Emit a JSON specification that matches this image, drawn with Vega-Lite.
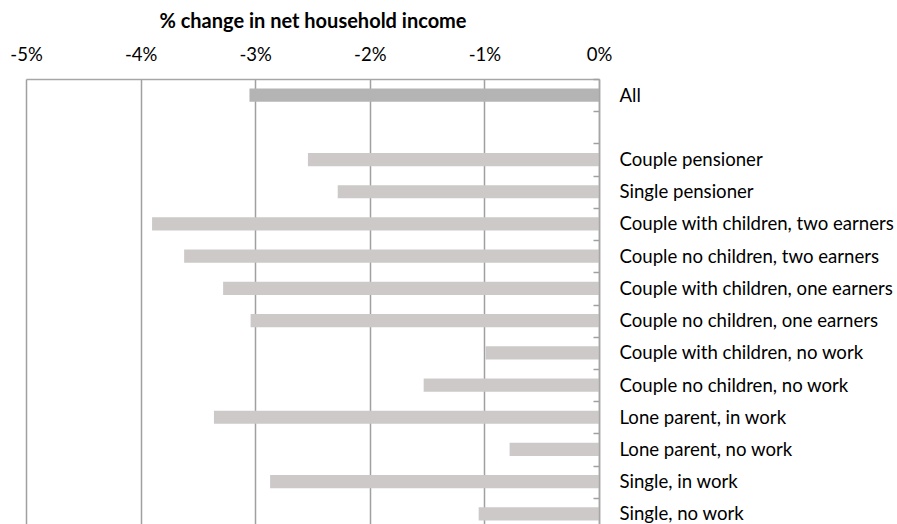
{
  "$schema": "https://vega.github.io/schema/vega-lite/v6.json",
  "autosize": {"type": "none"},
  "width": 573,
  "height": 451,
  "padding": {"left": 26, "top": 79, "right": 298, "bottom": 0},
  "background": "white",
  "config": {"view": {"stroke": null}, "font": "Lato"},
  "data": {
    "values": [
      {"category": "All", "change": -3.05},
      {"category": "Couple pensioner", "change": -2.54},
      {"category": "Single pensioner", "change": -2.28},
      {"category": "Couple with children, two earners", "change": -3.90},
      {"category": "Couple no children, two earners", "change": -3.62},
      {"category": "Couple with children, one earners", "change": -3.28},
      {"category": "Couple no children, one earners", "change": -3.04},
      {"category": "Couple with children, no work", "change": -0.99},
      {"category": "Couple no children, no work", "change": -1.53},
      {"category": "Lone parent, in work", "change": -3.36},
      {"category": "Lone parent, no work", "change": -0.78},
      {"category": "Single, in work", "change": -2.87},
      {"category": "Single, no work", "change": -1.05}
    ]
  },
  "mark": {"type": "bar", "height": {"band": 0.41}},
  "encoding": {
    "y": {
      "field": "category",
      "type": "nominal",
      "scale": {
        "domain": ["All", " ", "Couple pensioner", "Single pensioner", "Couple with children, two earners", "Couple no children, two earners", "Couple with children, one earners", "Couple no children, one earners", "Couple with children, no work", "Couple no children, no work", "Lone parent, in work", "Lone parent, no work", "Single, in work", "Single, no work"],
        "paddingInner": 0,
        "paddingOuter": 0
      },
      "axis": {
        "orient": "right",
        "title": null,
        "zindex": 1,
        "domainColor": "#a6a6a6",
        "domainWidth": 1.5,
        "ticks": true,
        "tickColor": "#a0a0a0",
        "tickSize": -6,
        "tickWidth": 1.5,
        "tickBand": "extent",
        "labelPadding": 26,
        "labelFontSize": 18.6,
        "labelLimit": 400,
        "labelColor": "#000000",
        "labelFont": "Lato",
        "labelAlign": "left"
      }
    },
    "x": {
      "field": "change",
      "type": "quantitative",
      "scale": {"domain": [-5, 0], "nice": false, "zero": true},
      "axis": {
        "orient": "top",
        "values": [-5, -4, -3, -2, -1, 0],
        "labelExpr": "datum.value + '%'",
        "labelFlush": false,
        "title": "% change in net household income",
        "titleFontSize": 20,
        "titleFontWeight": "bold",
        "titleColor": "#000000",
        "titlePadding": 14,
        "labelFontSize": 18.5,
        "labelColor": "#000000",
        "labelPadding": 15,
        "ticks": false,
        "domainColor": "#a6a6a6",
        "domainWidth": 1.5,
        "grid": true,
        "gridColor": "#a0a0a0",
        "gridWidth": 1.5,
        "gridOpacity": 1
      }
    },
    "color": {
      "condition": {"test": "datum.category === 'All'", "value": "#b4b4b4"},
      "value": "#cdc9c9"
    }
  }
}
